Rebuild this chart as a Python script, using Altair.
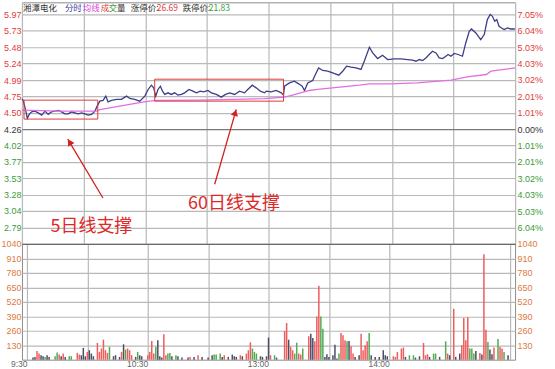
import altair as alt
import pandas as pd

# ---------------- data ----------------
# intraday price line (minute index from 9:30, displayed price)
price_t = [0, 0.6, 1.9, 2.6, 3.5, 4.7, 6.3, 7.9, 9.6, 11.2, 12.8, 14.4, 16.0, 17.6, 19.3, 20.9,
           22.5, 24.1, 25.7, 27.4, 29.0, 30.6, 32.2, 33.9, 35.5, 36.6, 37.9, 39.5, 40.8, 41.9,
           43.6, 46.0, 48.4, 50.9, 52.5, 54.9, 57.3, 59.8, 61.4, 63.0, 64.1, 65.1, 66.2, 67.4,
           68.4, 69.5, 71.1, 72.7, 74.3, 75.9, 77.6, 79.2, 81.3, 83.2, 84.9, 86.8, 88.4, 90.5,
           92.2, 94.6, 97.0, 99.1, 101.1, 103.5, 105.9, 108.3, 109.9, 112.1, 114.0, 116.0,
           118.1, 118.9, 121.3, 123.7, 126.2, 127.3, 127.8, 130.2, 132.6, 134.7, 136.4, 137.5,
           139.1, 141.5, 142.8, 144.4, 146.4, 148.8, 151.2, 154.2, 156.1, 158.0, 160.2, 162.6,
           165.0, 166.6, 169.1, 170.7, 173.1, 175.5, 178.0, 181.2, 184.5, 187.7, 190.1, 191.8,
           193.4, 195.0, 196.6, 198.2, 199.8, 201.5, 203.1, 204.7, 206.3, 207.4, 208.8, 210.4,
           212.3, 214.4, 216.0, 217.7, 218.8, 220.9, 223.3, 225.0, 226.5, 227.9, 229.0, 230.1,
           231.1, 232.2, 233.4, 234.7, 236.3, 237.9, 239.9]
price_v = [4.71, 4.687, 4.528, 4.419, 4.479, 4.517, 4.528, 4.502, 4.468, 4.528, 4.479, 4.517,
           4.528, 4.538, 4.517, 4.487, 4.487, 4.517, 4.502, 4.487, 4.502, 4.487, 4.468, 4.479,
           4.528, 4.602, 4.676, 4.687, 4.751, 4.666, 4.687, 4.702, 4.702, 4.751, 4.716, 4.702,
           4.676, 4.751, 4.850, 4.914, 4.874, 4.751, 4.850, 4.899, 4.825, 4.776, 4.800, 4.776,
           4.800, 4.766, 4.776, 4.800, 4.850, 4.825, 4.800, 4.825, 4.815, 4.835, 4.800, 4.776,
           4.736, 4.776, 4.800, 4.776, 4.825, 4.800, 4.850, 4.914, 4.874, 4.825, 4.800, 4.825,
           4.815, 4.835, 4.800, 4.766, 4.899, 4.948, 4.974, 4.934, 4.899, 4.835, 4.948, 4.984,
           5.073, 5.171, 5.133, 5.122, 5.097, 5.063, 5.122, 5.197, 5.182, 5.171, 5.148, 5.271,
           5.479, 5.395, 5.311, 5.360, 5.296, 5.305, 5.305, 5.296, 5.286, 5.271, 5.296, 5.281,
           5.320, 5.371, 5.420, 5.395, 5.320, 5.311, 5.345, 5.371, 5.345, 5.386, 5.371, 5.345,
           5.543, 5.717, 5.751, 5.692, 5.594, 5.668, 5.891, 5.966, 5.940, 5.866, 5.891, 5.792,
           5.766, 5.742, 5.766, 5.751, 5.751]

# average price line
avg_t = [0, 18.5, 36.4, 37.9, 47.6, 57.3, 62.2, 65.6, 86.5, 118.1, 127.8, 131.7, 139.9, 143.8,
         151.1, 164.2, 169.1, 178.8, 192.4, 208.9, 216.7, 226.0, 228.3, 240]
avg_v = [4.543, 4.528, 4.528, 4.550, 4.602, 4.654, 4.676, 4.687, 4.691, 4.714, 4.736, 4.766,
         4.835, 4.850, 4.874, 4.914, 4.934, 4.934, 4.948, 4.989, 5.038, 5.073, 5.122, 5.171]

# volume bars: minute, volume, direction (u = up/red, d = down/green, f = flat/grey)
vol_t = [3, 4, 5, 6, 7, 8, 9, 10, 11, 14, 15, 16, 17, 18, 19, 21, 22, 25, 26, 27, 28, 29, 30,
         31, 32, 33, 35, 36, 37, 38, 39, 40, 41, 43, 44, 46, 47, 48, 49, 50, 51, 52, 54, 55, 56,
         57, 60, 61, 62, 63, 64, 65, 66, 67, 68, 69, 70, 71, 72, 74, 75, 77, 80, 81, 83, 85, 87,
         90, 92, 93, 94, 96, 97, 98, 100, 102, 103, 104, 106, 107, 109, 110, 111, 112, 113, 114,
         116, 117, 119, 120, 121, 123, 124, 128, 129, 130, 131, 132, 133, 134, 135, 136, 137,
         140, 141, 142, 143, 144, 145, 146, 147, 148, 149, 150, 152, 153, 154, 155, 156, 157,
         158, 159, 160, 161, 162, 163, 165, 166, 167, 168, 169, 170, 171, 173, 175, 177, 178,
         179, 182, 183, 184, 186, 187, 188, 190, 192, 193, 195, 197, 198, 199, 200, 202, 203,
         205, 208, 209, 210, 212, 213, 215, 216, 217, 218, 219, 220, 221, 222, 223, 225, 226,
         227, 228, 229, 230, 231, 232, 234, 235, 236, 237, 239]
vol_v = [19, 25, 79, 55, 40, 31, 25, 40, 25, 31, 64, 46, 31, 55, 25, 31, 31, 61, 46, 40, 106, 31,
         70, 85, 55, 31, 150, 70, 100, 180, 85, 61, 115, 31, 40, 25, 70, 138, 91, 100, 85, 40, 25,
         70, 40, 31, 40, 70, 168, 55, 114, 174, 31, 19, 228, 40, 55, 61, 31, 40, 31, 19, 19, 25,
         25, 40, 25, 19, 40, 46, 46, 55, 25, 40, 25, 46, 31, 25, 40, 31, 55, 85, 156, 100, 70, 55,
         31, 25, 31, 198, 40, 40, 19, 257, 329, 180, 115, 85, 55, 153, 55, 46, 100,
         210, 234, 195, 165, 388, 665, 388, 278, 25, 49, 25, 40, 135, 10, 55, 240, 219,
         174, 165, 168, 121, 55, 25, 40, 234, 85, 129, 165, 240, 40, 25, 25, 85, 40,
         31, 31, 25, 70, 100, 109, 25, 40, 40, 19, 31, 150, 40, 49, 25, 55, 55,
         25, 165, 55, 40, 457, 25, 55, 129, 374, 174, 382, 100, 100, 55, 79, 61, 46,
         948, 269, 159, 91, 49, 109, 186, 115, 100, 70, 40]
vol_dir = ["f", "f", "u", "u", "f", "f", "d", "f", "f", "d", "d", "u", "f", "u", "f", "d", "d",
           "u", "u", "f", "f", "f", "u", "f", "f", "f", "u", "u", "u", "u", "u", "u", "d", "f",
           "f", "f", "u", "f", "d", "u", "u", "u", "f", "d", "f", "f", "u", "u", "u", "u", "d",
           "f", "f", "f", "u", "u", "d", "d", "f", "d", "f", "f", "f", "u", "f", "u", "f", "f",
           "f", "d", "d", "d", "f", "u", "f", "f", "f", "f", "u", "f", "u", "u", "u", "d", "d",
           "d", "f", "f", "f", "f", "u", "d", "f", "u", "u", "f", "u", "u", "d", "d", "u", "u",
           "d", "u", "f", "f", "u", "u", "u", "d", "d", "f", "f", "f", "f", "f", "f", "d", "u",
           "u", "u", "d", "f", "u", "u", "f", "f", "u", "u", "u", "u", "d", "f", "f", "f", "f",
           "f", "f", "u", "u", "u", "u", "u", "f", "d", "d", "f", "f", "u", "u", "u", "f", "d",
           "d", "f", "d", "u", "f", "u", "f", "f", "u", "u", "u", "u", "d", "d", "d", "f", "u",
           "f", "u", "u", "d", "f", "f", "u", "d", "u", "u", "d", "f"]

# axes
price_ticks = [2.79, 3.04, 3.28, 3.53, 3.77, 4.02, 4.26, 4.50, 4.75, 4.99, 5.24, 5.48, 5.73, 5.97]
pct_ticks = [-6.04, -5.03, -4.03, -3.02, -2.01, -1.01, 0.00, 1.01, 2.01, 3.02, 4.03, 5.03, 6.04, 7.05]
vol_ticks = [130, 260, 390, 520, 650, 780, 910, 1040]
time_ticks = [0, 30, 60, 90, 120, 150, 180, 210, 240]
time_names = ["9:30", "", "10:30", "", "13:00", "", "14:00", "", ""]

# header line
head_text = ["湘潭电化", "分时", "均线", "成", "交", "量", "涨停价:", "26.69", "跌停价:", "21.83"]
head_t = [0.5, 20.9, 29.6, 38.4, 42.3, 46.2, 53.0, 65.6, 78.2, 90.9]
head_col = ["#333333", "#3a3aa0", "#e040e0", "#e03c3c", "#3a9a3a", "#333333",
            "#333333", "#e03c3c", "#333333", "#3a9a3a"]

# annotations (minute / price units)
box_t0 = [1.0, 64.6]
box_t1 = [36.9, 127.3]
box_p0 = [4.409, 4.676]
box_p1 = [4.691, 5.003]
arrow_tail_t = [39.4, 93.8]
arrow_tail_p = [3.234, 3.438]
arrow_tip_t = [22.3, 104.3]
arrow_tip_p = [4.111, 4.553]
arrow_head_t = [23.2, 103.8]
arrow_head_p = [4.066, 4.503]
arrow_angle = [329, 16]
note_text = ["5日线支撑", "60日线支撑"]
note_t = [33.8, 103.2]
note_p = [2.803, 3.145]

# ---------------- chart ----------------
RED, GREEN, DARK = "#e03c3c", "#3a9a3a", "#333333"
GRID = "#b9b9b9"
AX_FONT = "Liberation Sans"
X_DOM = [0, 240]
P_DOM = [2.55, 6.148]
PCT_DOM = [-7.049, 7.782]
W = 494

price_df = pd.DataFrame({"t": price_t, "p": price_v})
avg_df = pd.DataFrame({"t": avg_t, "p": avg_v})
vol_df = pd.DataFrame({"t": vol_t, "v": vol_v, "d": vol_dir})
head_df = pd.DataFrame({"txt": head_text, "t": head_t, "c": head_col, "p": [6.06] * len(head_text)})
box_df = pd.DataFrame({"t0": box_t0, "t1": box_t1, "p0": box_p0, "p1": box_p1})
arrow_df = pd.DataFrame({"t0": arrow_tail_t, "p0": arrow_tail_p, "t1": arrow_tip_t, "p1": arrow_tip_p,
                         "th": arrow_head_t, "ph": arrow_head_p, "a": arrow_angle})
note_df = pd.DataFrame({"txt": note_text, "t": note_t, "p": note_p})
pct_df = pd.DataFrame({"q": pct_ticks})
vtick_df = pd.DataFrame({"v": vol_ticks})

X_SCALE = alt.Scale(domain=X_DOM, nice=False, zero=False)
P_SCALE = alt.Scale(domain=P_DOM, nice=False, zero=False)
X_TOP_AXIS = alt.Axis(values=time_ticks, labels=False, ticks=False, domain=False,
                      grid=True, gridColor=GRID, gridWidth=1.2, title=None)
P_AXIS = alt.Axis(values=price_ticks, format=".2f", title=None, ticks=False, domain=False,
                  grid=True, gridWidth=1.2, labelOverlap=False,
                  gridColor={"condition": {"test": "abs(datum.value - 4.26) < 0.005", "value": "#7a7a7a"},
                             "value": GRID},
                  labelColor={"condition": [{"test": "datum.value > 4.27", "value": RED},
                                            {"test": "datum.value < 4.25", "value": GREEN}],
                              "value": DARK},
                  labelFont=AX_FONT, labelFontSize=9, labelPadding=1)


def xt(field):
    return alt.X(field, type="quantitative", scale=X_SCALE, axis=X_TOP_AXIS)


def yp(field):
    return alt.Y(field, type="quantitative", scale=P_SCALE, axis=P_AXIS)


line = alt.Chart(price_df).mark_line(color="#3d3d8a", strokeWidth=1.3).encode(x=xt("t"), y=yp("p"))
avg = alt.Chart(avg_df).mark_line(color="#e070e0", strokeWidth=1.3).encode(x=xt("t"), y=yp("p"))
boxes = alt.Chart(box_df).mark_rect(filled=False, stroke="#e03a3a", strokeWidth=1).encode(
    x=xt("t0"), x2="t1:Q", y=yp("p0"), y2="p1:Q")
arrows = alt.Chart(arrow_df).mark_rule(color="#d42020", strokeWidth=1.3).encode(
    x=xt("t0"), x2="t1:Q", y=yp("p0"), y2="p1:Q")
heads = alt.Chart(arrow_df).mark_point(shape="triangle-up", filled=True, color="#d42020",
                                       size=55, opacity=1).encode(
    x=xt("th"), y=yp("ph"), angle=alt.Angle("a:Q", scale=None))
notes = alt.Chart(note_df).mark_text(color="#e02828", fontSize=18, font="Noto Sans CJK SC",
                                     baseline="middle", align="center").encode(
    x=xt("t"), y=yp("p"), text="txt:N")
header = alt.Chart(head_df).mark_text(fontSize=8.5, font="Noto Sans CJK SC", align="left",
                                      baseline="middle").encode(
    x=xt("t"), y=yp("p"), text="txt:N", color=alt.Color("c:N", scale=None))

main = alt.layer(line, avg, boxes, arrows, heads, notes, header)
right_pct = alt.Chart(pct_df).mark_point(opacity=0).encode(
    y=alt.Y("q:Q", scale=alt.Scale(domain=PCT_DOM, nice=False, zero=False),
            axis=alt.Axis(orient="right", values=pct_ticks, title=None, ticks=False, domain=False,
                          grid=False, labelOverlap=False,
                          labelExpr="format(abs(datum.value), '.2f') + '%'",
                          labelColor={"condition": [{"test": "datum.value > 0.01", "value": RED},
                                                    {"test": "datum.value < -0.01", "value": GREEN}],
                                      "value": DARK},
                          labelFont=AX_FONT, labelFontSize=9, labelPadding=2)))
top = alt.layer(main, right_pct).resolve_scale(y="independent").properties(width=W, height=242)

label_expr = " : ".join(f"datum.value == {t} ? '{n}'" for t, n in zip(time_ticks, time_names) if n) + " : ''"
x_bot = alt.X("t:Q", scale=X_SCALE,
              axis=alt.Axis(values=time_ticks, labelExpr=label_expr, ticks=False, domain=False,
                            grid=True, gridColor=GRID, gridWidth=1.2, title=None,
                            labelAlign="right", labelFlush=False, labelOverlap=False,
                            labelColor="#666666", labelFont=AX_FONT, labelFontSize=8.5,
                            labelPadding=0))
vol_axis_common = dict(values=vol_ticks, format="d", title=None, ticks=False, domain=False,
                       labelOverlap=False, labelColor="#e07a40", labelFont=AX_FONT,
                       labelFontSize=9)
bars = alt.Chart(vol_df).mark_bar(size=1.5).encode(
    x=x_bot,
    y=alt.Y("v:Q", scale=alt.Scale(domain=[0, 1040], nice=False),
            axis=alt.Axis(grid=True, gridWidth=1.2,
                          gridColor={"condition": {"test": "datum.value == 1040", "value": "#6a6a6a"},
                                     "value": GRID},
                          labelPadding=1, **vol_axis_common)),
    color=alt.Color("d:N", scale=alt.Scale(domain=["u", "d", "f"],
                                           range=["#ee5c5c", "#52aa52", "#4d4d66"]), legend=None))
right_vol = alt.Chart(vtick_df).mark_point(opacity=0).encode(
    y=alt.Y("v:Q", scale=alt.Scale(domain=[0, 1040], nice=False),
            axis=alt.Axis(orient="right", grid=False, labelPadding=2, **vol_axis_common)))
bottom = alt.layer(bars, right_vol).resolve_scale(y="independent").properties(width=W, height=116)

chart = alt.vconcat(top, bottom, spacing=0, bounds="flush").properties(
    autosize=alt.AutoSizeParams(type="pad"),
    padding={"left": 0, "top": 1, "right": 11, "bottom": 0},
    background="white",
).configure_view(stroke="#8c8c8c", strokeWidth=1).configure_axis(labelOverlap=False)

chart.save("out.html", embed_options={"renderer": "svg", "actions": False})
